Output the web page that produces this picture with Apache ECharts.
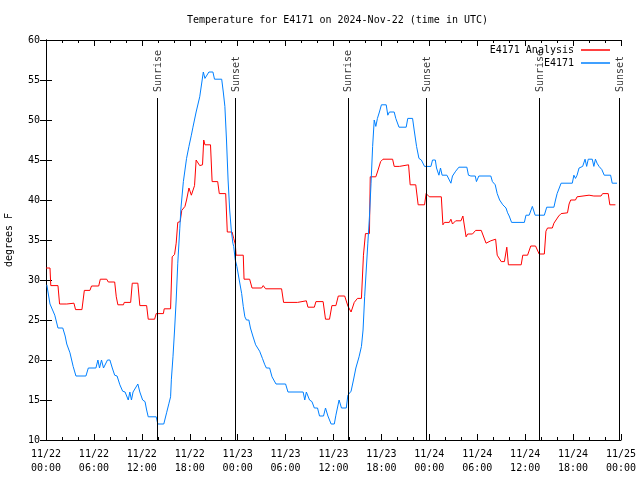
<!DOCTYPE html>
<html>
<head>
<meta charset="utf-8">
<script src="https://cdn.jsdelivr.net/npm/echarts@6/dist/echarts.min.js"></script>
<style>html,body{margin:0;padding:0;background:#fff}#c{width:640px;height:480px}</style>
</head>
<body>
<div id="c"></div>
<script>
// Hours since 2024-11-22 00:00 UTC
var redHours = [0,0.5,0.6,1.5,1.7,2.6,2.7,3.5,3.7,4.5,4.8,5.5,5.7,6.6,6.8,7.6,7.8,8.6,8.8,9.0,9.7,9.8,10.6,10.8,11.5,11.75,12.6,12.8,13.6,13.8,14.7,14.8,15.6,15.8,16.1,16.3,16.5,16.8,17.0,17.4,17.6,17.9,18.2,18.4,18.6,18.8,19.0,19.25,19.6,19.75,19.9,20.6,20.8,21.5,21.7,22.5,22.7,23.3,23.5,23.7,23.8,24.7,24.8,25.5,25.8,27.0,27.2,27.5,29.5,29.75,31.5,31.75,32.6,32.8,33.6,33.8,34.7,35.0,35.5,35.8,36.3,36.6,37.4,37.8,38.2,38.6,39.0,39.5,39.75,40.0,40.5,40.6,41.3,41.5,41.9,42.2,43.4,43.6,44.25,44.5,45.4,45.6,46.3,46.6,47.4,47.6,48.0,49.5,49.7,49.9,50.5,50.7,50.9,51.3,51.96,52.2,52.6,52.8,53.4,53.8,54.5,55.1,55.7,56.3,56.5,57.0,57.4,57.7,57.9,59.5,59.7,60.3,60.7,61.3,61.75,62.4,62.6,62.8,63.4,63.6,64.2,64.5,65.3,65.5,65.7,66.3,66.5,66.75,68.0,68.6,69.5,69.7,70.4,70.6,71.3];
var redTemps = [31.5,31.5,29.3,29.3,27.0,27.0,27.1,27.1,26.3,26.3,28.7,28.7,29.25,29.25,30.1,30.1,29.75,29.75,27.9,26.9,26.9,27.2,27.2,29.6,29.6,26.8,26.8,25.1,25.1,25.8,25.8,26.4,26.4,32.9,33.2,34.6,37.2,37.3,38.7,39.2,40.0,41.5,40.6,40.6,41.8,45.0,44.8,44.3,44.4,47.5,46.9,46.9,42.3,42.3,40.8,40.8,36.0,36.0,35.2,34.5,33.1,33.1,30.1,30.1,29.0,29.0,29.3,28.9,28.9,27.2,27.2,27.4,27.4,26.6,26.6,27.3,27.3,25.1,25.1,26.8,26.8,28.0,28.0,26.75,26.0,27.2,27.7,27.7,33.1,35.8,35.8,42.9,42.9,43.5,44.8,45.1,45.1,44.2,44.2,44.4,44.4,41.9,41.9,39.4,39.4,40.8,40.4,40.4,36.9,37.2,37.2,37.6,37.0,37.4,37.4,38.0,35.4,35.75,35.75,36.2,36.2,34.6,34.9,35.1,33.1,32.3,32.3,34.1,31.9,31.9,33.1,33.1,34.25,34.25,33.25,33.25,36.1,36.5,36.5,37.1,38.0,38.3,38.4,39.5,40.0,40.0,40.4,40.6,40.6,40.5,40.5,40.8,40.8,39.4,39.4];

var blueHours = [0.1,0.5,0.7,1.1,1.5,2.1,2.4,2.6,2.8,3.0,3.4,3.75,5.0,5.3,6.25,6.5,6.7,6.95,7.2,7.4,7.7,8.0,8.3,8.6,8.9,9.25,9.6,9.9,10.3,10.5,10.7,10.9,11.1,11.5,11.75,12.1,12.4,12.6,12.8,13.8,14.0,14.75,15.1,15.4,15.6,15.7,15.9,16.1,16.3,16.5,16.75,16.9,17.2,17.4,17.6,17.9,18.2,18.4,18.8,19.25,19.5,19.7,19.9,20.1,20.4,20.9,21.1,22.0,22.2,22.4,22.6,22.8,23.0,23.2,23.4,23.5,23.7,23.9,24.2,24.5,24.7,24.9,25.1,25.4,25.6,25.9,26.25,26.5,26.75,27.1,27.4,27.6,28.0,28.3,28.5,28.8,30.0,30.3,32.2,32.4,32.6,32.8,33.0,33.3,33.6,34.0,34.25,34.75,35.0,35.3,35.7,36.1,36.3,36.7,37.0,37.6,37.8,38.2,38.5,38.8,39.2,39.5,39.7,39.9,40.1,40.3,40.5,40.7,40.9,41.1,41.3,41.5,41.75,42.0,42.6,42.8,43.0,43.6,43.8,44.2,45.1,45.3,45.9,46.1,46.4,46.7,47.0,47.4,48.2,48.4,48.75,48.9,49.2,49.4,49.6,50.2,50.4,50.7,50.9,51.3,51.7,52.7,52.9,53.2,53.75,53.9,54.2,55.7,55.9,56.25,56.5,56.8,57.2,57.6,57.8,58.0,58.3,59.9,60.1,60.5,60.9,61.25,62.4,62.7,63.6,63.8,64.0,64.5,65.9,66.1,66.3,66.5,66.75,67.2,67.5,67.7,67.9,68.4,68.6,68.8,69.0,69.25,69.6,69.9,70.7,70.9,71.5];
var blueTemps = [29.4,27.0,26.9,25.6,24.0,24.0,23.0,22.0,22.0,20.9,19.2,18.0,18.0,19.0,19.0,20.0,19.0,20.0,19.0,19.0,20.0,20.0,19.0,18.1,18.0,16.9,16.1,16.0,15.0,16.0,15.0,16.0,16.0,17.0,16.0,15.0,14.8,13.75,12.9,12.9,12.0,12.0,13.4,14.6,15.4,17.6,20.4,23.75,27.5,32.1,36.4,39.0,42.3,43.75,45.2,46.7,48.1,49.1,51.0,52.9,53.1,56.0,55.2,55.1,56.0,56.0,55.1,55.1,53.5,51.7,47.5,42.5,38.75,36.25,34.6,34.2,32.5,31.7,30.0,28.3,26.7,25.4,25.0,25.0,24.0,23.0,21.9,21.9,21.1,20.2,19.4,19.0,19.0,17.9,17.8,17.0,17.0,16.0,16.0,15.0,16.0,15.9,15.0,14.8,14.0,14.0,13.0,13.0,14.0,13.0,12.0,12.0,13.1,15.0,14.0,14.0,15.6,16.1,17.5,19.0,20.4,21.7,23.75,27.9,31.25,34.6,37.9,42.1,46.7,50.0,49.2,50.2,51.0,51.9,51.9,50.6,51.0,51.0,50.2,49.1,49.1,50.2,50.2,48.75,46.7,45.2,45.0,44.2,44.2,45.0,45.0,44.0,43.1,44.0,43.1,43.1,43.0,42.1,43.0,43.6,44.1,44.1,43.1,43.0,43.0,42.3,43.0,43.0,42.3,41.9,40.8,40.0,39.4,39.0,38.4,38.0,37.2,37.2,38.1,38.1,39.2,38.1,38.1,39.1,39.1,40.0,40.8,42.1,42.1,43.1,42.7,43.1,44.0,44.2,45.1,44.2,45.1,45.1,44.2,45.1,44.6,44.2,43.8,43.1,43.1,42.1,42.1];

var eventNames = ['Sunrise','Sunset','Sunrise','Sunset','Sunrise','Sunset'];
var eventHours = [13.92, 23.67, 37.8, 47.66, 61.75, 71.75];
var eventLineTop = 52.75;
var eventLabelBase = 53.5;

var yTicks = {min: 10, max: 60, step: 5};
var xTicks = {min: 0, max: 72, step: 6};
var startDay = 22;

var seriesNames = ['E4171 Analysis', 'E4171'];
var titleText = 'Temperature for E4171 on 2024-Nov-22 (time in UTC)';
var yName = 'degrees F';

function pairs(xs, ys) { return xs.map(function (x, i) { return [x, ys[i]]; }); }
function pad(n) { return (n < 10 ? '0' : '') + n; }

var FONT = 'DejaVu Sans Mono';
var chart = echarts.init(document.getElementById('c'), null, {renderer: 'canvas'});

var eventLines = eventHours.map(function (h) {
  return [{coord: [h, yTicks.min]}, {coord: [h, eventLineTop]}];
});
var eventPoints = eventHours.map(function (h, i) {
  return {name: eventNames[i], value: [h, eventLabelBase]};
});

var xAxisCommon = {
  type: 'value', min: xTicks.min, max: xTicks.max, interval: xTicks.step,
  axisLine: {show: true, lineStyle: {color: '#000', width: 1}},
  axisTick: {show: true, inside: true, length: 6, lineStyle: {color: '#000'}},
  minorTick: {show: true, splitNumber: 3, length: 3, lineStyle: {color: '#000'}},
  splitLine: {show: false}
};
var yAxisCommon = {
  type: 'value', min: yTicks.min, max: yTicks.max, interval: yTicks.step,
  axisLine: {show: true, lineStyle: {color: '#000', width: 1}},
  axisTick: {show: true, inside: true, length: 6, lineStyle: {color: '#000'}},
  splitLine: {show: false}
};

chart.setOption({
  animation: false,
  backgroundColor: '#fff',
  title: {
    text: titleText, left: 182, top: 9,
    textStyle: {fontFamily: FONT, fontSize: 10, fontWeight: 'normal', color: '#000', lineHeight: 12}
  },
  legend: [{
    data: [seriesNames[0]], right: 30, top: 45, orient: 'vertical', align: 'right',
    padding: 0, itemWidth: 29, itemHeight: 1.5, itemGap: 7, icon: 'rect',
    textStyle: {fontFamily: FONT, fontSize: 10, color: '#000', padding: [0, 2, 0, 0]}
  }, {
    data: [seriesNames[1]], right: 30, top: 58, orient: 'vertical', align: 'right',
    padding: 0, itemWidth: 29, itemHeight: 1.5, itemGap: 7, icon: 'rect',
    textStyle: {fontFamily: FONT, fontSize: 10, color: '#000', padding: [0, 2, 0, 0]}
  }],
  grid: {left: 46, right: 19, top: 40, bottom: 40, show: false, containLabel: false, outerBoundsMode: 'none'},
  xAxis: [
    Object.assign({}, xAxisCommon, {
      position: 'bottom',
      axisLabel: {
        fontFamily: FONT, fontSize: 10, color: '#000', margin: 7, lineHeight: 14,
        formatter: function (v) {
          var d = startDay + Math.floor(v / 24);
          var hh = v % 24;
          return '11/' + pad(d) + '\n' + pad(hh) + ':00';
        }
      }
    }),
    Object.assign({}, xAxisCommon, {position: 'top', axisLabel: {show: false}})
  ],
  yAxis: [
    Object.assign({}, yAxisCommon, {
      position: 'left',
      name: yName, nameLocation: 'middle', nameRotate: 90, nameGap: 32,
      nameTextStyle: {fontFamily: FONT, fontSize: 10, color: '#000'},
      axisLabel: {fontFamily: FONT, fontSize: 10, color: '#000', margin: 6}
    }),
    Object.assign({}, yAxisCommon, {position: 'right', axisLabel: {show: false}})
  ],
  series: [
    {
      name: seriesNames[0], type: 'line', data: pairs(redHours, redTemps),
      showSymbol: false, symbol: 'none', lineStyle: {color: '#ff0000', width: 1},
      itemStyle: {color: '#ff0000'}, z: 3
    },
    {
      name: seriesNames[1], type: 'line', data: pairs(blueHours, blueTemps),
      showSymbol: false, symbol: 'none', lineStyle: {color: '#0080ff', width: 1},
      itemStyle: {color: '#0080ff'}, z: 3
    },
    {
      name: 'events', type: 'scatter', data: eventPoints, symbolSize: 0,
      silent: true, z: 4,
      label: {
        show: true, position: [1, 0], rotate: 90, align: 'left', verticalAlign: 'middle',
        formatter: '{b}', fontFamily: FONT, fontSize: 10, color: '#000'
      },
      markLine: {
        silent: true, symbol: ['none', 'none'], animation: false,
        label: {show: false},
        lineStyle: {color: '#000', width: 1, type: 'solid'},
        data: eventLines
      }
    }
  ]
});
</script>
</body>
</html>
